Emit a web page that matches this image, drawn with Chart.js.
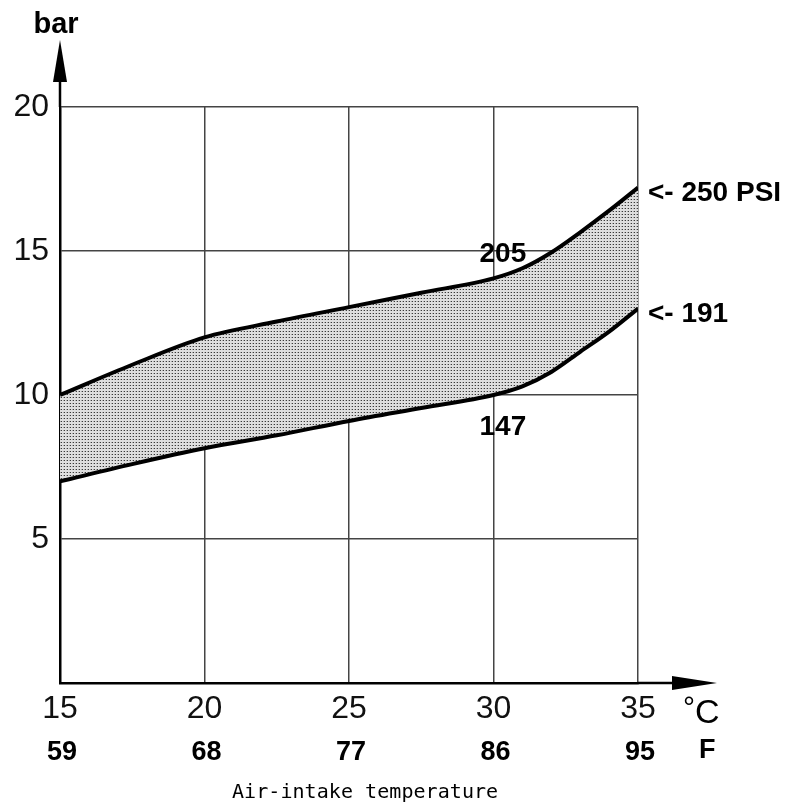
<!DOCTYPE html>
<html>
<head>
<meta charset="utf-8">
<script src="https://cdn.jsdelivr.net/npm/chart.js@4/dist/chart.umd.min.js"></script>
<style>
  html, body { margin: 0; padding: 0; background: #fff; }
  #wrap { width: 791px; height: 807px; }
</style>
</head>
<body>
<div id="wrap"><canvas id="c" width="791" height="807"></canvas></div>
<script>
// ---- data ----
const temperaturesC = [15, 17.5, 20, 22.5, 25, 27.5, 30, 31, 32, 33, 34, 35];
const upperBar = [10, 11.05, 12, 12.55, 13.05, 13.55, 14.05, 14.4, 14.95, 15.65, 16.4, 17.2];
const lowerBar = [7, 7.6, 8.15, 8.6, 9.1, 9.55, 10.0, 10.3, 10.8, 11.5, 12.2, 13.0];
const celsiusTicks = [15, 20, 25, 30, 35];
const fahrenheitTicks = [59, 68, 77, 86, 95];
const barTicks = [5, 10, 15, 20];
const annotations = [
  { x: 30, y: 14.05, text: '205', place: 'above' },
  { x: 30, y: 10.0, text: '147', place: 'below' },
  { x: 35, y: 17.2, text: '<- 250 PSI', place: 'right' },
  { x: 35, y: 13.0, text: '<- 191', place: 'right' }
];
const xTitle = 'Air-intake temperature';

// dotted fill pattern
function makePattern() {
  const t = document.createElement('canvas');
  t.width = 3; t.height = 3;
  const g = t.getContext('2d');
  g.fillStyle = '#dedede';
  g.fillRect(0, 0, 3, 3);
  g.fillStyle = '#3a3a3a';
  g.fillRect(1, 1, 1, 1);
  g.fillStyle = '#a8a8a8';
  g.fillRect(0, 1, 1, 1);
  return g.createPattern(t, 'repeat');
}

const SANS = '"Liberation Sans", Arial, Helvetica, sans-serif';

const decor = {
  id: 'decor',
  afterDraw(chart) {
    const ctx = chart.ctx;
    const xs = chart.scales.x, ys = chart.scales.y;
    const ca = chart.chartArea;
    ctx.save();
    ctx.strokeStyle = '#000';
    ctx.fillStyle = '#000';
    ctx.lineWidth = 2.5;
    // y axis extension + arrow
    ctx.beginPath();
    ctx.moveTo(ca.left, ca.top);
    ctx.lineTo(ca.left, ca.top - 30);
    ctx.stroke();
    ctx.beginPath();
    ctx.moveTo(ca.left, ca.top - 67);
    ctx.lineTo(ca.left - 7, ca.top - 25);
    ctx.lineTo(ca.left + 7, ca.top - 25);
    ctx.closePath();
    ctx.fill();
    // x axis extension + arrow
    ctx.beginPath();
    ctx.moveTo(ca.right, ca.bottom);
    ctx.lineTo(ca.right + 38, ca.bottom);
    ctx.stroke();
    ctx.beginPath();
    ctx.moveTo(ca.right + 79, ca.bottom);
    ctx.lineTo(ca.right + 34, ca.bottom - 7);
    ctx.lineTo(ca.right + 34, ca.bottom + 7);
    ctx.closePath();
    ctx.fill();

    // axis unit labels
    ctx.textBaseline = 'alphabetic';
    ctx.textAlign = 'center';
    ctx.font = 'bold 29px ' + SANS;
    ctx.fillText('bar', ca.left - 4, 33);
    ctx.textAlign = 'left';
    ctx.font = '30px ' + SANS;
    ctx.fillText('°', ca.right + 45, 717);
    ctx.font = '34px ' + SANS;
    ctx.fillText('C', ca.right + 57, 723);

    // Fahrenheit row
    ctx.font = 'bold 27px ' + SANS;
    ctx.textAlign = 'center';
    celsiusTicks.forEach((c, i) => {
      ctx.fillText(String(fahrenheitTicks[i]), xs.getPixelForValue(c) + 2, 760);
    });
    ctx.textAlign = 'left';
    ctx.fillText('F', ca.right + 61, 758);

    // annotations
    ctx.font = 'bold 28px ' + SANS;
    annotations.forEach(a => {
      const px = xs.getPixelForValue(a.x), py = ys.getPixelForValue(a.y);
      ctx.textAlign = 'left';
      if (a.place === 'above') ctx.fillText(a.text, px - 14, py - 16);
      else if (a.place === 'below') ctx.fillText(a.text, px - 14, py + 40);
      else ctx.fillText(a.text, px + 10, py + 13);
    });

    // x title in monospace
    ctx.font = '20px "DejaVu Sans Mono", "Liberation Mono", monospace';
    ctx.textAlign = 'left';
    const cw = 12.1;
    const startX = 232;
    for (let i = 0; i < xTitle.length; i++) {
      ctx.fillText(xTitle[i], startX + i * cw, 798);
    }
    ctx.restore();
  }
};

new Chart(document.getElementById('c'), {
  type: 'line',
  data: {
    datasets: [
      {
        label: 'min',
        data: temperaturesC.map((t, i) => ({ x: t, y: lowerBar[i] })),
        borderColor: '#000',
        borderWidth: 4,
        pointRadius: 0,
        cubicInterpolationMode: 'monotone',
        fill: false
      },
      {
        label: 'max',
        data: temperaturesC.map((t, i) => ({ x: t, y: upperBar[i] })),
        borderColor: '#000',
        borderWidth: 4,
        pointRadius: 0,
        cubicInterpolationMode: 'monotone',
        backgroundColor: makePattern(),
        fill: '-1'
      }
    ]
  },
  options: {
    responsive: false,
    devicePixelRatio: 1,
    animation: false,
    layout: { padding: { top: 107, right: 153, bottom: 0, left: 0 } },
    plugins: { legend: { display: false }, tooltip: { enabled: false } },
    scales: {
      x: {
        type: 'linear',
        min: 15, max: 35,
        afterFit(s) { s.height = 124; },
        afterBuildTicks(s) { s.ticks = celsiusTicks.map(v => ({ value: v })); },
        ticks: {
          color: '#111',
          font: { family: SANS, size: 32 },
          padding: 7,
          maxRotation: 0
        },
        grid: { color: '#444', lineWidth: 1.5, drawTicks: false },
        border: { color: '#000', width: 2.5 }
      },
      y: {
        min: 0, max: 20,
        afterFit(s) { s.width = 60; },
        afterBuildTicks(s) { s.ticks = [0].concat(barTicks).map(v => ({ value: v })); },
        ticks: {
          color: '#111',
          font: { family: SANS, size: 32 },
          padding: 11,
          callback: v => (v === 0 ? '' : String(v))
        },
        grid: { color: '#444', lineWidth: 1.5, drawTicks: false },
        border: { color: '#000', width: 2.5 }
      }
    }
  },
  plugins: [decor]
});
</script>
</body>
</html>
